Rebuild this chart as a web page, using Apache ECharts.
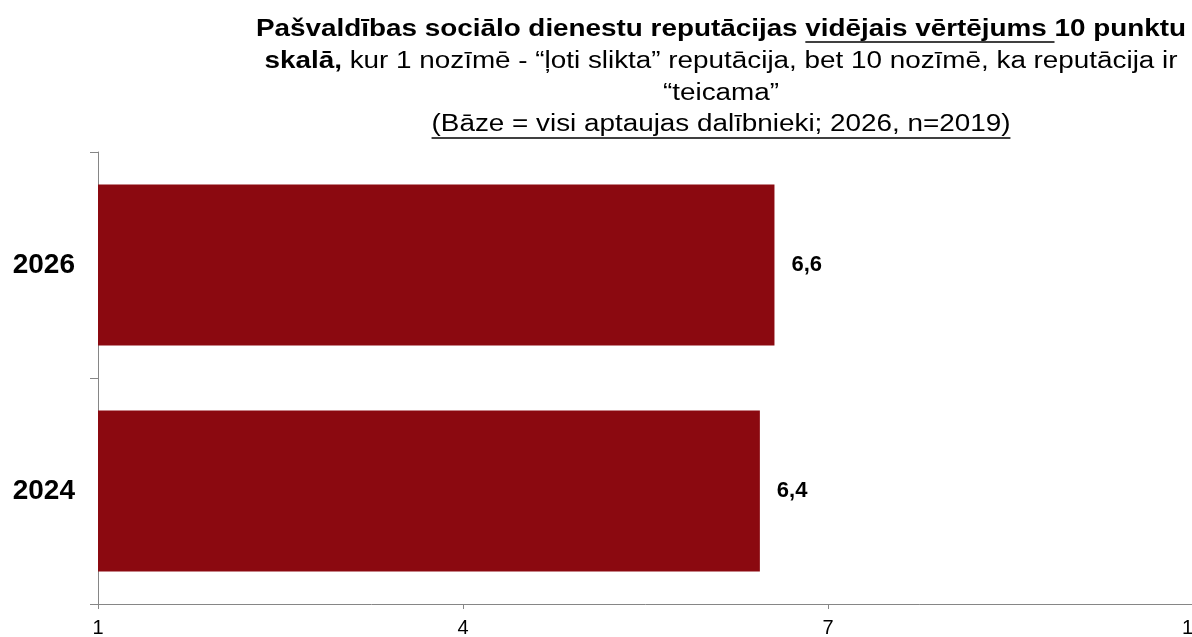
<!DOCTYPE html>
<html>
<head>
<meta charset="utf-8">
<script src="https://cdn.jsdelivr.net/npm/echarts@6/dist/echarts.min.js"></script>
<style>
  html, body { margin: 0; padding: 0; background: #fff; }
  #main { width: 1192px; height: 637px; }
</style>
</head>
<body>
<div id="main"></div>
<script>
// dati
var years = ['2024', '2026'];
var scores = [6.44, 6.56];
var xTicks = [1, 4, 7, 10];

// virsraksta rindas
var titleLine1a = 'Pašvaldības sociālo dienestu reputācijas ';
var titleLine1u = 'vidējais vērtējums ';
var titleLine1b = '10 punktu';
var titleLine2a = 'skalā,';
var titleLine2b = ' kur 1 nozīmē - “ļoti slikta” reputācija, bet 10 nozīmē, ka reputācija ir';
var titleLine3 = '“teicama”';
var titleLine4 = '(Bāze = visi aptaujas dalībnieki; 2026, n=2019)';

var FONT = '"Liberation Sans", Arial, sans-serif';
var TSIZE = 23;
var CX = 721;        // virsraksta centrs
var TITLE_W = 930;   // pirmās rindas platums attēlā

var ctx = document.createElement('canvas').getContext('2d');
function measure(txt, bold) {
  ctx.font = (bold ? 'bold ' : '') + TSIZE + 'px ' + FONT;
  return ctx.measureText(txt).width;
}

var w1 = measure(titleLine1a + titleLine1u + titleLine1b, true);
var sx = TITLE_W / w1;  // virsraksts attēlā ir izstiepts platumā
var ul1x = -w1 / 2 + measure(titleLine1a, true);
var ul1w = measure(titleLine1u, true);
var w4 = measure(titleLine4, false);

var lineY = [30, 62, 94, 125];
var rich = {
  b: { fontFamily: FONT, fontSize: TSIZE, fontWeight: 'bold', color: '#000' },
  n: { fontFamily: FONT, fontSize: TSIZE, fontWeight: 'normal', color: '#000' }
};
function textEl(txt, y) {
  return {
    type: 'text', x: 0, y: y,
    style: { text: txt, rich: rich, align: 'center', verticalAlign: 'middle' }
  };
}
function underline(x1, x2, y) {
  return {
    type: 'line',
    shape: { x1: x1, y1: y, x2: x2, y2: y },
    style: { stroke: '#000', lineWidth: 1.5 }
  };
}

var chart = echarts.init(document.getElementById('main'));

var option = {
  animation: false,
  backgroundColor: '#fff',
  graphic: [{
    type: 'group',
    x: CX, y: 0,
    scaleX: sx,
    children: [
      textEl('{b|' + titleLine1a + titleLine1u + titleLine1b + '}', lineY[0]),
      textEl('{b|' + titleLine2a + '}{n|' + titleLine2b + '}', lineY[1]),
      textEl('{n|' + titleLine3 + '}', lineY[2]),
      textEl('{n|' + titleLine4 + '}', lineY[3]),
      underline(ul1x, ul1x + ul1w, lineY[0] + 12),
      underline(-w4 / 2, w4 / 2, lineY[3] + 13)
    ]
  }],
  grid: {
    left: 98, right: -1, top: 152, bottom: 33,
    outerBoundsMode: 'none'
  },
  xAxis: {
    type: 'value',
    min: 1, max: 10, interval: 3,
    splitLine: { show: false },
    axisLine: { show: true, lineStyle: { color: '#868686', width: 1 } },
    axisTick: { show: true, length: 5, lineStyle: { color: '#868686' }, customValues: xTicks },
    axisLabel: {
      customValues: xTicks,
      fontFamily: FONT, fontSize: 20, color: '#000', margin: 14
    }
  },
  yAxis: {
    type: 'category',
    data: years,
    axisLine: { show: true, lineStyle: { color: '#868686', width: 1 } },
    axisTick: { show: true, length: 8, lineStyle: { color: '#868686' } },
    axisLabel: {
      fontFamily: FONT, fontSize: 28, fontWeight: 'bold', color: '#000', margin: 23
    }
  },
  series: [{
    type: 'bar',
    data: scores,
    barWidth: 161,
    itemStyle: { color: '#8B0910' },
    label: {
      show: true,
      position: 'right',
      distance: 17,
      fontFamily: FONT, fontSize: 22, fontWeight: 'bold', color: '#000',
      formatter: function (p) {
        return p.value.toFixed(1).replace('.', ',');
      }
    }
  }]
};

chart.setOption(option);
</script>
</body>
</html>
